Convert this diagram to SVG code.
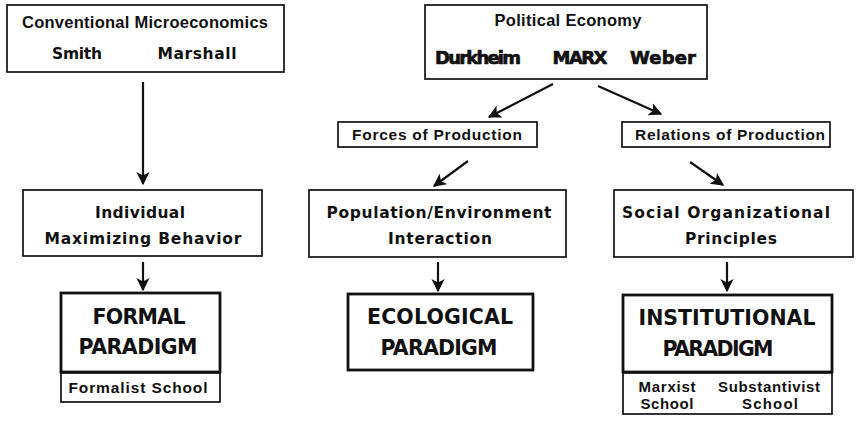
<svg xmlns="http://www.w3.org/2000/svg" width="856" height="422" viewBox="0 0 856 422">
  <defs>
    <marker id="head" viewBox="0 0 10 10" refX="9" refY="5" markerWidth="6" markerHeight="6" orient="auto" markerUnits="strokeWidth">
      <path d="M0,0 L10,5 L0,10 L2.5,5 Z" fill="#111"/>
    </marker>
    <style>
      .box { fill: #fff; stroke: #111; stroke-width: 1.7; }
      .thick { fill: #fff; stroke: #111; stroke-width: 2.8; }
      .sans { font-family: "Liberation Sans", Arial, sans-serif; font-weight: bold; fill: #111; text-anchor: middle; }
      .wide { font-family: "DejaVu Sans", "Liberation Sans", sans-serif; font-weight: bold; fill: #111; text-anchor: middle; }
      .heavy { stroke: #111; stroke-width: 0.7; }
      .big { font-family: "DejaVu Sans", "Liberation Sans", sans-serif; font-weight: bold; fill: #111; text-anchor: middle; font-size: 20.5px; }
      .conn line { stroke: #111; stroke-width: 2.2; marker-end: url(#head); }
    </style>
  </defs>
  <rect width="856" height="422" fill="#fff"/>

  <!-- top-left source -->
  <g id="microeconomics">
    <rect class="box" x="7" y="5" width="277" height="67"/>
    <text class="sans" x="145" y="28" font-size="16.5" textLength="246" lengthAdjust="spacing">Conventional Microeconomics</text>
    <text class="wide" x="77" y="59" font-size="15.5" textLength="50" lengthAdjust="spacing">Smith</text>
    <text class="wide" x="197" y="59" font-size="15.5" textLength="79" lengthAdjust="spacing">Marshall</text>
  </g>

  <!-- top-right source -->
  <g id="political-economy">
    <rect class="box" x="425" y="5" width="282" height="74"/>
    <text class="sans" x="568" y="26" font-size="16.5" textLength="147" lengthAdjust="spacing">Political Economy</text>
    <text class="wide heavy" x="478" y="64" font-size="18" textLength="86" lengthAdjust="spacing">Durkheim</text>
    <text class="wide heavy" x="580" y="64" font-size="18" textLength="55" lengthAdjust="spacing">MARX</text>
    <text class="wide heavy" x="663" y="64" font-size="18" textLength="66" lengthAdjust="spacing">Weber</text>
  </g>

  <g id="forces">
    <rect class="box" x="338" y="122" width="199" height="25"/>
    <text class="sans" x="437" y="140" font-size="15.5" textLength="170" lengthAdjust="spacing">Forces of Production</text>
  </g>

  <g id="relations">
    <rect class="box" x="622" y="122" width="208" height="25"/>
    <text class="sans" x="730" y="140" font-size="15.5" textLength="190" lengthAdjust="spacing">Relations of Production</text>
  </g>

  <g id="individual">
    <rect class="box" x="23" y="190" width="239" height="66"/>
    <text class="wide" x="140" y="218" font-size="15.5" textLength="90" lengthAdjust="spacing">Individual</text>
    <text class="wide" x="143" y="244" font-size="15.5" textLength="197" lengthAdjust="spacing">Maximizing Behavior</text>
  </g>

  <g id="population">
    <rect class="box" x="309" y="190" width="257" height="67"/>
    <text class="wide" x="439" y="218" font-size="15.5" textLength="225" lengthAdjust="spacing">Population/Environment</text>
    <text class="wide" x="440" y="244" font-size="15.5" textLength="104" lengthAdjust="spacing">Interaction</text>
  </g>

  <g id="social">
    <rect class="box" x="614" y="190" width="239" height="67"/>
    <text class="wide" x="726" y="218" font-size="15.5" textLength="208" lengthAdjust="spacing">Social Organizational</text>
    <text class="wide" x="731" y="244" font-size="15.5" textLength="92" lengthAdjust="spacing">Principles</text>
  </g>

  <g id="formal">
    <rect class="thick" x="61" y="293" width="159" height="79"/>
    <text class="big" x="139" y="324" textLength="93" lengthAdjust="spacing">FORMAL</text>
    <text class="big" x="138" y="354" textLength="119" lengthAdjust="spacing">PARADIGM</text>
    <rect class="box" x="61" y="373" width="159" height="29"/>
    <text class="sans" x="138" y="393" font-size="15.5" textLength="139" lengthAdjust="spacing">Formalist School</text>
  </g>

  <g id="ecological">
    <rect class="thick" x="348" y="294" width="185" height="76"/>
    <text class="big" x="440" y="324" textLength="146" lengthAdjust="spacing">ECOLOGICAL</text>
    <text class="big" x="439" y="355" textLength="117" lengthAdjust="spacing">PARADIGM</text>
  </g>

  <g id="institutional">
    <rect class="thick" x="623" y="295" width="209" height="77"/>
    <text class="big" x="727" y="325" textLength="177" lengthAdjust="spacing">INSTITUTIONAL</text>
    <text class="big" x="718" y="356" textLength="111" lengthAdjust="spacing">PARADIGM</text>
    <rect class="box" x="623" y="373" width="209" height="41"/>
    <text class="sans" x="667" y="392" font-size="15" textLength="57" lengthAdjust="spacing">Marxist</text>
    <text class="sans" x="667" y="409" font-size="15" textLength="53" lengthAdjust="spacing">School</text>
    <text class="sans" x="769" y="392" font-size="15" textLength="102" lengthAdjust="spacing">Substantivist</text>
    <text class="sans" x="770" y="409" font-size="15" textLength="56" lengthAdjust="spacing">School</text>
  </g>

  <g id="connectors" class="conn">
    <line x1="143" y1="82" x2="143" y2="184"/>
    <line x1="553" y1="84" x2="489" y2="117"/>
    <line x1="598" y1="86" x2="661" y2="114"/>
    <line x1="468" y1="161" x2="434" y2="186"/>
    <line x1="690" y1="162" x2="723" y2="185"/>
    <line x1="143" y1="262" x2="143" y2="290"/>
    <line x1="438" y1="262" x2="438" y2="291"/>
    <line x1="727" y1="262" x2="727" y2="291"/>
  </g>
</svg>
